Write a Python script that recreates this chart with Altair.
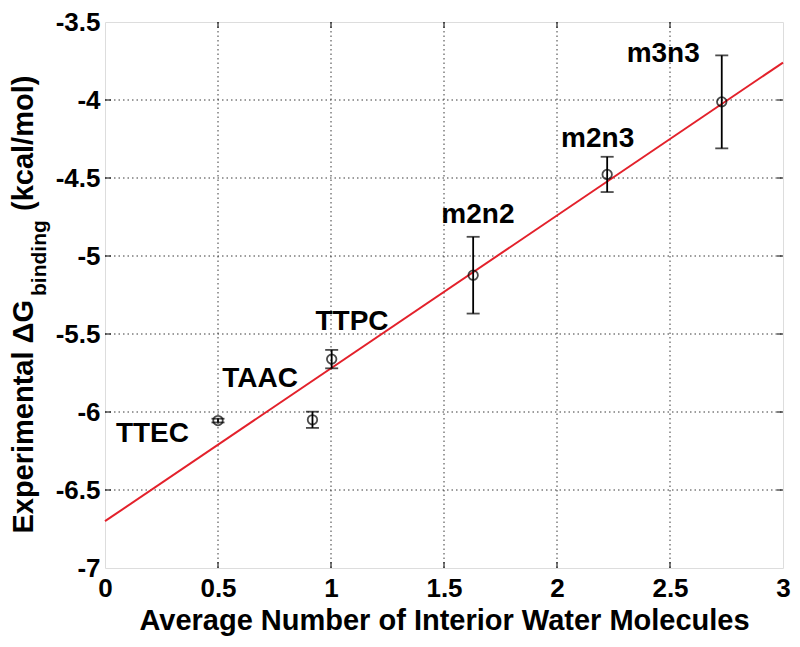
import altair as alt
import pandas as pd

# ---- data ----
names = ["TTEC", "TAAC", "TTPC", "m2n2", "m2n3", "m3n3"]
water = [0.50, 0.918, 1.003, 1.629, 2.222, 2.729]
dg = [-6.055, -6.050, -5.661, -5.123, -4.477, -4.012]
err = [0.012, 0.052, 0.059, 0.246, 0.113, 0.298]
label_x = [0.21, 0.686, 1.093, 1.65, 2.18, 2.47]
label_y = [-6.144, -5.79, -5.425, -4.74, -4.25, -3.706]
fit_x = [0.0, 3.0]
fit_y = [-6.70, -3.76]
x_ticks = [0, 0.5, 1, 1.5, 2, 2.5, 3]
y_ticks = [-7, -6.5, -6, -5.5, -5, -4.5, -4, -3.5]
x_title = "Average Number of Interior Water Molecules"
y_title_parts = ["Experimental \u0394G", "binding", "(kcal/mol)"]

FONT = "Liberation Sans"
W, H = 678, 546

pts = pd.DataFrame({
    "name": names, "x": water, "y": dg,
    "lo": [a - b for a, b in zip(dg, err)],
    "hi": [a + b for a, b in zip(dg, err)],
})
labels = pd.DataFrame({"name": names, "lx": label_x, "ly": label_y})
fit = pd.DataFrame({"x": fit_x, "y": fit_y})
xt = pd.DataFrame({"v": x_ticks})
xt_in = pd.DataFrame({"v": x_ticks[1:-1]})
yt_in = pd.DataFrame({"v": y_ticks[1:-1]})

xs = alt.Scale(domain=[0, 3], nice=False, zero=False)
ys = alt.Scale(domain=[-7, -3.5], nice=False, zero=False)

xaxis = alt.Axis(values=x_ticks, labelExpr="toString(datum.value)", grid=False,
                 domain=False, ticks=False, labelFont=FONT, labelFontSize=26,
                 labelFontWeight="bold", labelColor="black", labelPadding=7,
                 labelOverlap=False, labelFlush=False,
                 title=x_title, titleFont=FONT, titleFontSize=29,
                 titleFontWeight="bold", titleColor="black", titlePadding=5)
yaxis = alt.Axis(values=y_ticks, labelExpr="toString(datum.value)", grid=False,
                 domain=False, ticks=False, labelFont=FONT, labelFontSize=26,
                 labelFontWeight="bold", labelColor="black", labelPadding=5,
                 labelOverlap=False, labelFlush=False, title=None)

base_axes = alt.Chart(xt).mark_point(opacity=0).encode(
    x=alt.X("v:Q", scale=xs, axis=xaxis),
    y=alt.Y("v:Q", scale=ys, axis=yaxis),
)

grid_style = dict(color="#3a3a3a", strokeWidth=1, strokeDash=[1.5, 3])
vgrid = alt.Chart(xt_in).mark_rule(**grid_style).encode(
    x=alt.X("v:Q", scale=xs), y=alt.value(0), y2=alt.value(H))
hgrid = alt.Chart(yt_in).mark_rule(**grid_style).encode(
    y=alt.Y("v:Q", scale=ys), x=alt.value(0), x2=alt.value(W))

tick_style = dict(color="black", strokeWidth=1)
xtick_b = alt.Chart(xt_in).mark_rule(**tick_style).encode(
    x=alt.X("v:Q", scale=xs), y=alt.value(H - 6), y2=alt.value(H))
xtick_t = alt.Chart(xt_in).mark_rule(**tick_style).encode(
    x=alt.X("v:Q", scale=xs), y=alt.value(0), y2=alt.value(6))
ytick_l = alt.Chart(yt_in).mark_rule(**tick_style).encode(
    y=alt.Y("v:Q", scale=ys), x=alt.value(0), x2=alt.value(6))
ytick_r = alt.Chart(yt_in).mark_rule(**tick_style).encode(
    y=alt.Y("v:Q", scale=ys), x=alt.value(W - 6), x2=alt.value(W))

fit_line = alt.Chart(fit).mark_line(color="#e3212b", strokeWidth=2).encode(
    x=alt.X("x:Q", scale=xs), y=alt.Y("y:Q", scale=ys))

bars = alt.Chart(pts).mark_rule(color="black", strokeWidth=1.8).encode(
    x=alt.X("x:Q", scale=xs), y=alt.Y("lo:Q", scale=ys), y2="hi:Q")
cap_lo = alt.Chart(pts).mark_tick(color="black", orient="horizontal", size=13,
                                  thickness=1.8).encode(
    x=alt.X("x:Q", scale=xs), y=alt.Y("lo:Q", scale=ys))
cap_hi = alt.Chart(pts).mark_tick(color="black", orient="horizontal", size=13,
                                  thickness=1.8).encode(
    x=alt.X("x:Q", scale=xs), y=alt.Y("hi:Q", scale=ys))

points = alt.Chart(pts).mark_point(shape="circle", filled=False, color="black",
                                   size=90, strokeWidth=1.8).encode(
    x=alt.X("x:Q", scale=xs), y=alt.Y("y:Q", scale=ys))

texts = alt.Chart(labels).mark_text(font=FONT, fontSize=28, fontWeight="bold",
                                    color="black", align="center",
                                    baseline="middle").encode(
    x=alt.X("lx:Q", scale=xs), y=alt.Y("ly:Q", scale=ys), text="name:N")

one = pd.DataFrame({"k": [0]})
yt1 = alt.Chart(one).mark_text(font=FONT, fontSize=29, fontWeight="bold",
                               color="black", angle=270, align="right",
                               baseline="alphabetic").encode(
    x=alt.value(-72), y=alt.value(278), text=alt.value(y_title_parts[0]))
yt2 = alt.Chart(one).mark_text(font=FONT, fontSize=21, fontWeight="bold",
                               color="black", angle=270, align="left",
                               baseline="alphabetic").encode(
    x=alt.value(-59), y=alt.value(274), text=alt.value(y_title_parts[1]))
yt3 = alt.Chart(one).mark_text(font=FONT, fontSize=29, fontWeight="bold",
                               color="black", angle=270, align="left",
                               baseline="alphabetic").encode(
    x=alt.value(-72), y=alt.value(189), text=alt.value(y_title_parts[2]))

chart = alt.layer(
    base_axes, vgrid, hgrid, xtick_b, xtick_t, ytick_l, ytick_r,
    fit_line, bars, cap_lo, cap_hi, points, texts, yt1, yt2, yt3,
).properties(
    width=W, height=H,
    autosize=alt.AutoSizeParams(type="none"),
    padding={"left": 97, "top": 14, "right": 9, "bottom": 71},
).configure_view(stroke="black", strokeWidth=1.2, fill="white"
).configure(background="white")

chart.save("out.html", embed_options={"renderer": "svg", "actions": False})
